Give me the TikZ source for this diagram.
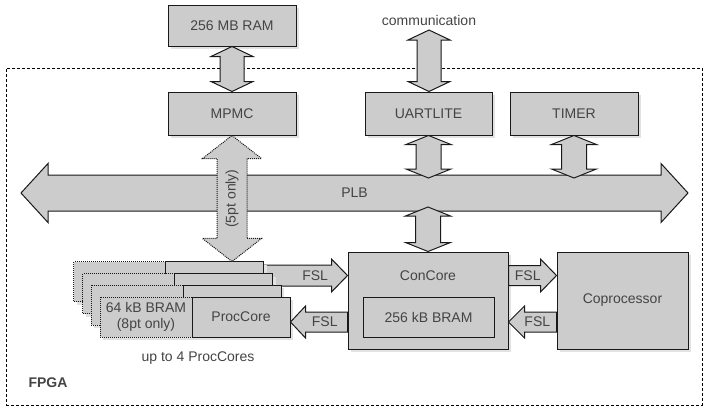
\documentclass[tikz,border=0pt]{standalone}
\usepackage{fontspec}
\setmainfont{Liberation Sans}
\usetikzlibrary{calc,shadows,backgrounds}

\definecolor{blockfill}{HTML}{CCCCCC}
\definecolor{inktext}{HTML}{444444}
\definecolor{shade}{HTML}{E2E2E2}

\tikzset{
  lbl/.style={font=\fontsize{14}{16}\selectfont, text=inktext, inner sep=0pt},
  plainblk/.style={draw=black!90, line width=1pt, fill=blockfill, lbl},
  blk/.style={plainblk, drop shadow={shadow xshift=3pt, shadow yshift=-3pt, fill=shade, opacity=1}},
  dotblk/.style={blk, densely dotted},
  barrow/.style={draw=black!90, line width=1pt, fill=blockfill, line join=miter},
  dotarrow/.style={barrow, densely dotted},
  fpgaframe/.style={draw=black, line width=1pt, dash pattern=on 3pt off 2pt, inner sep=0pt},
}

% vertical block arrow with two heads: [style]{top}{bottom}{shaft half}{head half}{head length}
\newcommand\vbiarrow[6][]{%
  \path[barrow,#1] let \p1=(#2), \p2=(#3) in
    (\x1,\y1) -- (\x1+#5pt,\y1-#6pt) -- (\x1+#4pt,\y1-#6pt) -- (\x1+#4pt,\y2+#6pt)
    -- (\x1+#5pt,\y2+#6pt) -- (\x1,\y2) -- (\x1-#5pt,\y2+#6pt) -- (\x1-#4pt,\y2+#6pt)
    -- (\x1-#4pt,\y1-#6pt) -- (\x1-#5pt,\y1-#6pt) -- cycle;}

% horizontal block arrow with two heads: [style]{left}{right}{shaft half}{head half}{head length}
\newcommand\hbiarrow[6][]{%
  \path[barrow,#1] let \p1=(#2), \p2=(#3) in
    (\x1,\y1) -- (\x1+#6pt,\y1+#5pt) -- (\x1+#6pt,\y1+#4pt) -- (\x2-#6pt,\y1+#4pt)
    -- (\x2-#6pt,\y1+#5pt) -- (\x2,\y1) -- (\x2-#6pt,\y1-#5pt) -- (\x2-#6pt,\y1-#4pt)
    -- (\x1+#6pt,\y1-#4pt) -- (\x1+#6pt,\y1-#5pt) -- cycle;}

% horizontal block arrow with one head: [style]{tail}{tip}{shaft half}{head half}{head length}
\newcommand\harrowblk[6][]{%
  \path[barrow,#1] let \p1=(#2), \p2=(#3), \n1={sign(\x2-\x1)} in
    (\x1,\y1+#4pt) -- (\x2-\n1*#6pt,\y1+#4pt) -- (\x2-\n1*#6pt,\y1+#5pt) -- (\x2,\y1)
    -- (\x2-\n1*#6pt,\y1-#5pt) -- (\x2-\n1*#6pt,\y1-#4pt) -- (\x1,\y1-#4pt) -- cycle;}

\begin{document}
\begin{tikzpicture}[x=1pt,y=-1pt]
\useasboundingbox (0,0) rectangle (705,410);

% FPGA boundary
\node[fpgaframe, minimum width=696pt, minimum height=337pt] (fpga) at (354,236.5) {};
\node[lbl, font=\fontsize{14}{16}\selectfont\bfseries] (fpgatitle) at (48,383) {FPGA};

% peripheral blocks
\node[blk, minimum width=128pt, minimum height=41pt] (ram)   at (232,25.5)    {256 MB RAM};
\node[blk, minimum width=128pt, minimum height=43pt] (mpmc)  at (232,113.5)   {MPMC};
\node[blk, minimum width=127pt, minimum height=43pt] (uart)  at (428.5,113.5) {UARTLITE};
\node[blk, minimum width=128pt, minimum height=43pt] (timer) at (574,113.5)   {TIMER};

\node[lbl] (comm) at (429,20) {communication};
\coordinate (commend) at (429,30);

% processor local bus
\coordinate (plbL) at (21,193);
\coordinate (plbR) at (688,193);
\coordinate (plbtop) at (0,178);
\coordinate (plbbot) at (0,207);
\hbiarrow{plbL}{plbR}{18}{29.5}{27}
\node[lbl] (plb) at ($(plbL)!0.5!(plbR)$) {PLB};

\vbiarrow{ram.south}{mpmc.north}{12}{21}{10}
\vbiarrow{commend}{uart.north}{12}{21}{10}
\vbiarrow{uart.south}{uart.south |- plbtop}{12.5}{22.5}{9}
\vbiarrow{timer.south}{timer.south |- plbtop}{12.5}{22.5}{9}

% control core and coprocessor
\node[blk, minimum width=160pt, minimum height=97pt] (concore) at (428,300.5) {};
\node[lbl] (concoretitle) at ($(concore.north)+(0,24)$) {ConCore};
\node[plainblk, minimum width=131pt, minimum height=40pt] (cbram) at (428.5,317) {256 kB BRAM};
\node[blk, minimum width=131pt, minimum height=97pt] (copro) at (622.5,300.5) {Coprocessor};

\vbiarrow{concore.north |- plbbot}{concore.north}{12.5}{22.5}{9}

% stack of processing cores
\foreach \k in {3,2,1} {
  \node[dotblk, minimum width=92pt, minimum height=40pt] (bram\k) at (146-8.67*\k, 317-11.67*\k) {};
  \node[blk, minimum width=98pt, minimum height=40pt] (pc\k) at (241-8.67*\k, 317-11.67*\k) {};
}
\node[dotblk, minimum width=92pt, minimum height=40pt, align=center] (bram0) at (146,317) {64 kB BRAM\\(8pt only)};
\node[blk, minimum width=98pt, minimum height=40pt] (pc0) at (241,317) {ProcCore};
\node[lbl] (upto) at (198,358) {up to 4 ProcCores};

% FSL links
\coordinate (fslA) at (0,275.5);
\coordinate (fslB) at (0,322);
\begin{scope}[on background layer]
  \harrowblk{pc3.east |- fslA}{concore.west |- fslA}{10.5}{16.5}{16}
\end{scope}
\node[lbl] (fsl1) at ($(pc3.east |- fslA)!0.61!(concore.west |- fslA)$) {FSL};
\harrowblk{concore.east |- fslA}{copro.west |- fslA}{10}{16.5}{16}
\node[lbl] (fsl2) at ($(concore.east |- fslA)!0.4!(copro.west |- fslA)$) {FSL};
\harrowblk{copro.west |- fslB}{concore.east |- fslB}{10}{16}{16}
\node[lbl] (fsl3) at ($(copro.west |- fslB)!0.4!(concore.east |- fslB)$) {FSL};
\harrowblk{concore.west |- fslB}{pc0.east |- fslB}{10}{16}{15}
\node[lbl] (fsl4) at ($(concore.west |- fslB)!0.4!(pc0.east |- fslB)$) {FSL};

% memory port from MPMC to the cores
\vbiarrow[dotarrow]{mpmc.south}{mpmc.south |- pc3.north}{15}{29.5}{23}
\node[lbl, rotate=90] (fivept) at ($(mpmc.south)!0.5!(mpmc.south |- pc3.north)$) {(5pt only)};
\end{tikzpicture}
\end{document}
